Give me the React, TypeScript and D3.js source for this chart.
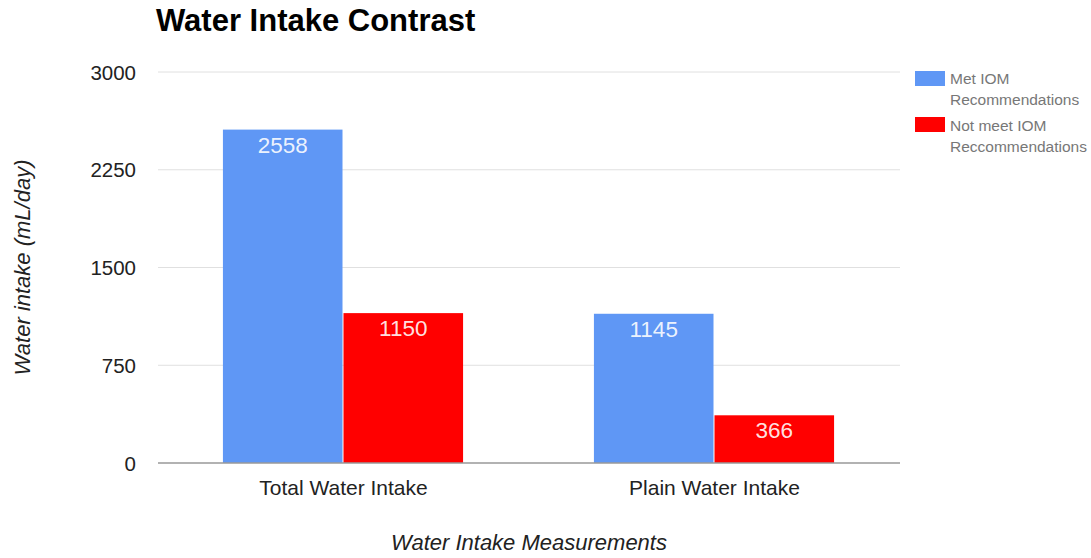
import React from "react";
import * as d3 from "d3";

const categories = ["Total Water Intake", "Plain Water Intake"];
const seriesNames = ["Met IOM Recommendations", "Not meet IOM Reccommendations"];
const legendLines = [["Met IOM", "Recommendations"], ["Not meet IOM", "Reccommendations"]];
const metValues = [2558, 1145];
const notMetValues = [1150, 366];
const yTicks = [0, 750, 1500, 2250, 3000];
const colors = ["#5f97f5", "#ff0000"];

export default function App() {
  const W = 1091, H = 558;
  const left = 158, right = 900, top = 72, bottom = 463;
  const x = d3.scaleBand<string>().domain(categories).range([left, right]).paddingInner(0).paddingOuter(0);
  const y = d3.scaleLinear().domain([0, 3000]).range([bottom, top]);
  const groupW = x.bandwidth() * 0.65;
  const inner = d3.scaleBand<number>().domain([0, 1]).range([0, groupW]).padding(0);
  const series = [metValues, notMetValues];
  const font = "Arial, 'Liberation Sans', sans-serif";
  return (
    <svg width={W} height={H} style={{ position: "absolute", left: 0, top: 0, fontFamily: font }}>
      <rect width={W} height={H} fill="#fff" />
      <text x={156} y={31} fontSize={31} fontWeight="bold" fill="#000">Water Intake Contrast</text>
      {yTicks.map((t) => (
        <g key={t}>
          {t !== 0 && <line x1={left} x2={right} y1={y(t)} y2={y(t)} stroke="#e0e0e0" strokeWidth={1} />}
          <text x={136} y={y(t) + 7.5} fontSize={20.5} textAnchor="end" fill="#222">{t}</text>
        </g>
      ))}
      {categories.map((c, ci) => {
        const gx = x(c)! + (x.bandwidth() - groupW) / 2;
        return (
          <g key={c}>
            {series.map((vals, si) => {
              const bx = gx + inner(si)!;
              const bw = inner.bandwidth() - 1;
              const by = y(vals[ci]);
              return (
                <g key={si}>
                  <rect x={bx} y={by} width={bw} height={bottom - by} fill={colors[si]} />
                  <text x={bx + bw / 2} y={by + 23} fontSize={22.5} textAnchor="middle" fill="#fff" fillOpacity={0.9}>{vals[ci]}</text>
                </g>
              );
            })}
            <text x={x(c)! + x.bandwidth() / 2} y={495} fontSize={21} textAnchor="middle" fill="#222">{c}</text>
          </g>
        );
      })}
      <line x1={left} x2={right} y1={bottom} y2={bottom} stroke="#999" strokeWidth={1.5} />
      <text x={(left + right) / 2} y={550} fontSize={22} fontStyle="italic" textAnchor="middle" fill="#222">Water Intake Measurements</text>
      <text transform={`translate(30,${(top + bottom) / 2}) rotate(-90)`} fontSize={22} fontStyle="italic" textAnchor="middle" fill="#222">Water intake (mL/day)</text>
      {legendLines.map((lines, i) => (
        <g key={i} aria-label={seriesNames[i]}>
          <rect x={915} y={71 + i * 46} width={30} height={15} fill={colors[i]} />
          <text x={950} y={84 + i * 47} fontSize={15.5} fill="#777">{lines[0]}</text>
          <text x={950} y={105 + i * 47} fontSize={15.5} fill="#777">{lines[1]}</text>
        </g>
      ))}
    </svg>
  );
}
